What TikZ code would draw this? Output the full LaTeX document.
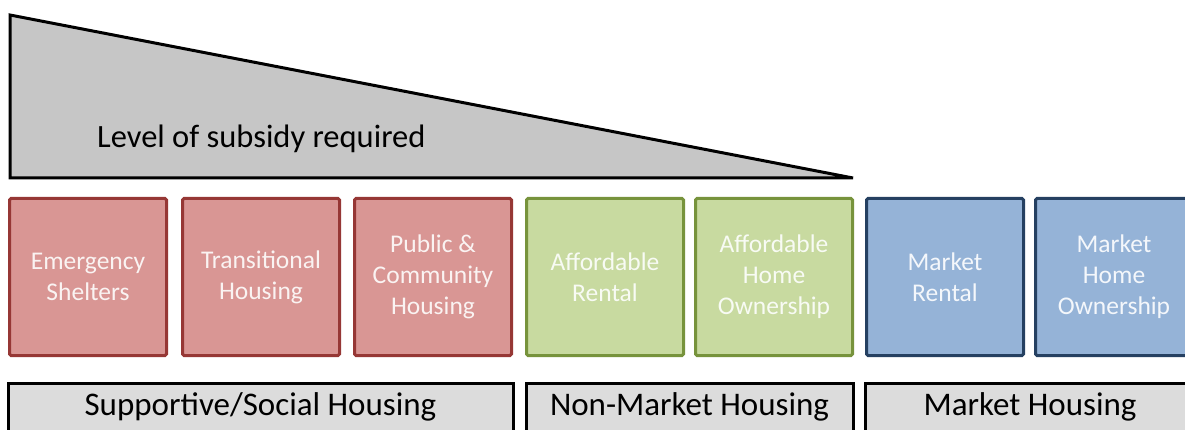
\documentclass[tikz,border=0pt]{standalone}
\usepackage{fontspec}
\setmainfont{Carlito}
\definecolor{redfill}{RGB}{217,150,148}
\definecolor{redline}{RGB}{150,55,53}
\definecolor{greenfill}{RGB}{200,218,160}
\definecolor{greenline}{RGB}{119,147,60}
\definecolor{bluefill}{RGB}{149,179,215}
\definecolor{blueline}{RGB}{37,64,97}
\definecolor{wedgefill}{RGB}{198,198,198}
\definecolor{groupfill}{RGB}{220,220,220}
\tikzset{
  tile/.style={rectangle, rounded corners=1.5pt, line width=3pt,
    minimum width=157pt, minimum height=157pt, inner sep=0pt,
    align=center, text=white,
    font=\fontsize{25.5}{31}\selectfont},
  redtile/.style={tile, draw=redline, fill=redfill, text=white!88!redfill},
  greentile/.style={tile, draw=greenline, fill=greenfill, text=white!88!greenfill},
  bluetile/.style={tile, draw=blueline, fill=bluefill, text=white!90!bluefill},
  group/.style={rectangle, draw=black, fill=groupfill, line width=3pt,
    inner sep=0pt},
  grouptext/.style={font=\fontsize{33}{40}\selectfont, anchor=base},
}
\begin{document}
\begin{tikzpicture}[x=1pt, y=-1pt]
\useasboundingbox (0,0) rectangle (1185,430);
% subsidy wedge
\draw[line width=3pt, fill=wedgefill, line join=miter]
  (10,15) -- (10,178) -- (853,178) -- cycle;
\node[anchor=base west, inner sep=0pt, font=\fontsize{32.5}{39}\selectfont]
  (subsidy) at (97,148) {Level of subsidy required};
% housing types
\node[redtile]   (shelter)  at (88,277)   {Emergency\\Shelters};
\node[redtile]   (trans)    at (261,277)  {Transitional\\Housing};
\node[redtile]   (public)   at (433,277)  {Public \&\\Community\\Housing};
\node[greentile] (affrent)  at (605,277)  {Affordable\\Rental};
\node[greentile] (affown)   at (774,277)  {Affordable\\Home\\Ownership};
\node[bluetile]  (mrent)    at (945,277)  {Market\\Rental};
\node[bluetile]  (mown)     at (1114,277) {Market\\Home\\Ownership};
% housing groups
\draw[group] (8,383) rectangle (513,470);
\draw[group] (526,383) rectangle (853,470);
\draw[group] (865,383) rectangle (1200,470);
\node[grouptext] (social)    at (260.5,415) {Supportive/Social Housing};
\node[grouptext] (nonmarket) at (689.5,415) {Non-Market Housing};
\node[grouptext] (market)    at (1030,415)  {Market Housing};
\end{tikzpicture}
\end{document}
